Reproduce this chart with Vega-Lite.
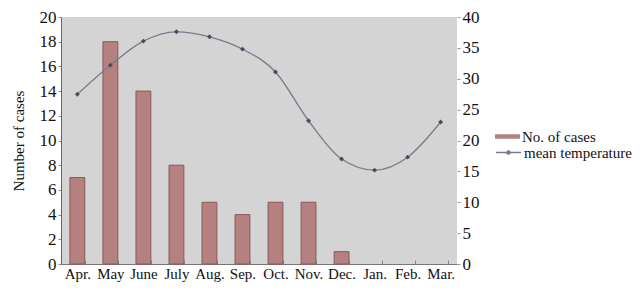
{
  "$schema": "https://vega.github.io/schema/vega-lite/v6.json",
  "width": 396,
  "height": 247,
  "autosize": {"type": "none"},
  "padding": {"left": 61, "top": 17, "right": 183, "bottom": 28},
  "background": "white",
  "config": {
    "font": "Times New Roman",
    "view": {"fill": "#d4d4d4", "stroke": null},
    "axis": {"grid": false, "labelColor": "#111", "titleColor": "#111", "labelFont": "Times New Roman", "titleFont": "Times New Roman"},
    "legend": {"labelFont": "Times New Roman", "labelFontSize": 15, "labelColor": "#111"}
  },
  "data": {
    "values": [
      {"month": "Apr.", "cases": 7, "temp": 27.5},
      {"month": "May", "cases": 18, "temp": 32.2},
      {"month": "June", "cases": 14, "temp": 36.1},
      {"month": "July", "cases": 8, "temp": 37.6},
      {"month": "Aug.", "cases": 5, "temp": 36.8},
      {"month": "Sep.", "cases": 4, "temp": 34.8},
      {"month": "Oct.", "cases": 5, "temp": 31.1},
      {"month": "Nov.", "cases": 5, "temp": 23.2},
      {"month": "Dec.", "cases": 1, "temp": 17.0},
      {"month": "Jan.", "cases": 0, "temp": 15.2},
      {"month": "Feb.", "cases": 0, "temp": 17.3},
      {"month": "Mar.", "cases": 0, "temp": 23.0}
    ]
  },
  "encoding": {
    "x": {
      "field": "month",
      "type": "ordinal",
      "sort": null,
      "scale": {"domain": ["Apr.", "May", "June", "July", "Aug.", "Sep.", "Oct.", "Nov.", "Dec.", "Jan.", "Feb.", "Mar."], "paddingInner": 0.55, "paddingOuter": 0.27},
      "axis": {
        "title": null,
        "labelAngle": 0,
        "labelFontSize": 15,
        "labelPadding": 6,
        "domainColor": "#777",
        "tickBand": "extent",
        "tickColor": "#888",
        "tickSize": -4
      }
    }
  },
  "layer": [
    {
      "transform": [{"filter": "datum.cases > 0"}],
      "mark": {"type": "bar", "stroke": "#8a5858", "strokeWidth": 1},
      "encoding": {
        "y": {
          "field": "cases",
          "type": "quantitative",
          "scale": {"domain": [0, 20], "nice": false},
          "axis": {
            "orient": "left",
            "values": [0, 2, 4, 6, 8, 10, 12, 14, 16, 18, 20],
            "title": "Number of cases",
            "titleFontSize": 15,
            "titleFontWeight": "normal",
            "titlePadding": 13,
            "labelFontSize": 17,
            "domainColor": "#666",
            "tickColor": "#888",
            "tickSize": 3
          }
        },
        "fill": {
          "datum": "No. of cases",
          "type": "nominal",
          "scale": {"range": ["#b58080"]},
          "legend": {
            "title": null,
            "orient": "none",
            "legendX": 434,
            "legendY": 107,
            "symbolType": "M-1,-0.18H1V0.18H-1Z",
            "symbolSize": 625,
            "symbolStrokeWidth": 0,
            "labelOffset": 2
          }
        }
      }
    },
    {
      "encoding": {
        "y": {
          "field": "temp",
          "type": "quantitative",
          "scale": {"domain": [0, 40], "nice": false},
          "axis": {
            "orient": "right",
            "values": [0, 5, 10, 15, 20, 25, 30, 35, 40],
            "title": null,
            "labelFontSize": 17,
            "domain": false,
            "tickColor": "#999",
            "tickSize": 3
          }
        }
      },
      "layer": [
        {
          "mark": {"type": "line", "interpolate": "monotone", "strokeWidth": 1.3},
          "encoding": {
            "stroke": {
              "datum": "mean temperature",
              "type": "nominal",
              "scale": {"range": ["#7a7a8e"]},
              "legend": {
                "title": null,
                "orient": "none",
                "legendX": 434,
                "legendY": 122,
                "symbolType": "M-1,0H1M-0.12,0A0.12,0.12,0,1,1,0.12,0A0.12,0.12,0,1,1,-0.12,0",
                "symbolSize": 625,
                "symbolStrokeWidth": 1.6,
                "labelOffset": 2
              }
            }
          }
        },
        {
          "mark": {"type": "point", "shape": "diamond", "filled": true, "size": 24, "color": "#4a4a5c", "opacity": 1},
          "encoding": {}
        }
      ]
    }
  ],
  "resolve": {"scale": {"y": "independent", "fill": "independent", "stroke": "independent"}}
}
